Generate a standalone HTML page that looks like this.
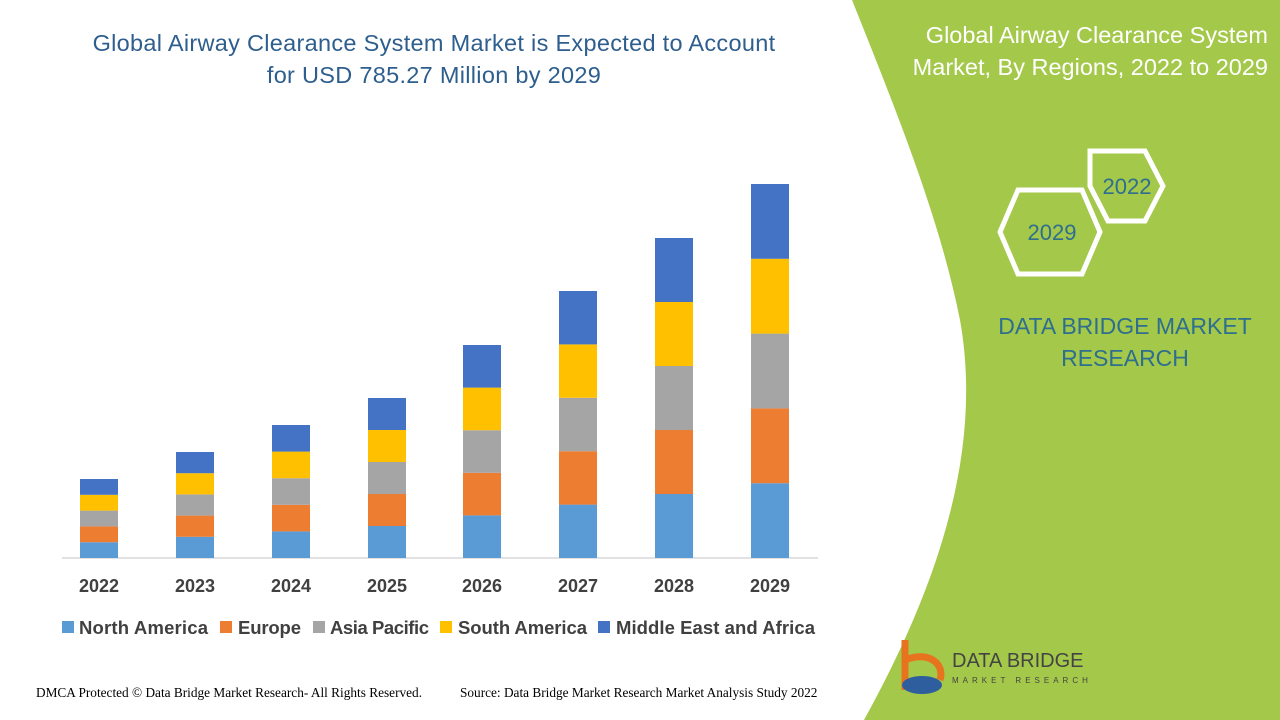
<!DOCTYPE html>
<html><head><meta charset="utf-8"><style>
body{margin:0;width:1280px;height:720px;overflow:hidden;background:#fff;font-family:"Liberation Sans",sans-serif;position:relative}
.t{position:absolute;white-space:nowrap}
</style></head><body>
<svg width="1280" height="720" style="position:absolute;left:0;top:0">
<path d="M852,0 L1280,0 L1280,720 L864,720 C930,600 985,460 960,320 C940,220 900,120 852,0 Z" fill="#a4c84a"/>
<g fill="none" stroke="#fff" stroke-width="5">
<polygon points="1090,151 1145,151 1163,186 1145,221 1108,221 1090,186"/>
<polygon points="1018,190 1082,190 1100,232 1082,274 1018,274 1000,232"/>
</g>
<g font-family="Liberation Sans" font-size="22" fill="#2e6e8e" text-anchor="middle">
<text x="1127" y="194">2022</text><text x="1052" y="240">2029</text>
</g>
<line x1="62" y1="558" x2="818" y2="558" stroke="#d9d9d9" stroke-width="1.5"/>
<g id="bars"></g>
<g font-size="18" font-weight="bold" fill="#404040" text-anchor="middle">
<text x="99" y="592">2022</text><text x="195" y="592">2023</text><text x="291" y="592">2024</text><text x="387" y="592">2025</text><text x="482" y="592">2026</text><text x="578" y="592">2027</text><text x="674" y="592">2028</text><text x="770" y="592">2029</text>
</g>
<g font-size="18.5" font-weight="bold" fill="#404040">
<rect x="62" y="621" width="12" height="12" fill="#5b9bd5"/><text x="79" y="634" textLength="129">North America</text>
<rect x="220" y="621" width="12" height="12" fill="#ed7d31"/><text x="238" y="634" textLength="63">Europe</text>
<rect x="313" y="621" width="12" height="12" fill="#a5a5a5"/><text x="330" y="634" textLength="99">Asia Pacific</text>
<rect x="440" y="621" width="12" height="12" fill="#ffc000"/><text x="458" y="634" textLength="129">South America</text>
<rect x="598" y="621" width="12" height="12" fill="#4472c4"/><text x="616" y="634" textLength="199">Middle East and Africa</text>
</g>
<g transform="translate(900,640)">
<path d="M5,0 L5,50 M5,20 C30,10 45,25 40,40" stroke="#e8731e" stroke-width="7" fill="none"/>
<ellipse cx="22" cy="45" rx="20" ry="9" fill="#2e5e9e"/>
</g>
</svg>
<script>
var xs=[99,195,291,387,482,578,674,770],tops=[479,452,425,398,345,291,238,184],c=["#5b9bd5","#ed7d31","#a5a5a5","#ffc000","#4472c4"],s="";
for(var i=0;i<8;i++){var h=(558-tops[i])/5;for(var k=0;k<5;k++){s+='<rect x="'+(xs[i]-19)+'" y="'+(558-h*(k+1))+'" width="38" height="'+h+'" fill="'+c[k]+'"/>';}}
document.getElementById("bars").innerHTML=s;
</script>
<div class="t" style="left:0;width:868px;top:27px;text-align:center;font-size:23.5px;letter-spacing:0.3px;line-height:32px;color:#2e5e8e">Global Airway Clearance System Market is Expected to Account<br>for USD 785.27 Million by 2029</div>
<div class="t" style="right:12px;top:19px;text-align:right;font-size:23.5px;line-height:32px;color:#fff">Global Airway Clearance System<br>Market, By Regions, 2022 to 2029</div>
<div class="t" style="left:990px;width:270px;top:310px;text-align:center;font-size:23px;line-height:32px;color:#2e6e8e">DATA BRIDGE MARKET<br>RESEARCH</div>
<div class="t" style="left:36px;top:685px;font-family:'Liberation Serif',serif;font-size:13.3px;color:#000">DMCA Protected © Data Bridge Market Research- All Rights Reserved.</div>
<div class="t" style="left:460px;top:685px;font-family:'Liberation Serif',serif;font-size:13.3px;color:#000">Source: Data Bridge Market Research Market Analysis Study 2022</div>
<div class="t" style="left:952px;top:650px;font-size:20px;color:#444">DATA BRIDGE</div>
<div class="t" style="left:952px;top:676px;font-size:8px;letter-spacing:4px;color:#444">MARKET RESEARCH</div>
</body></html>
